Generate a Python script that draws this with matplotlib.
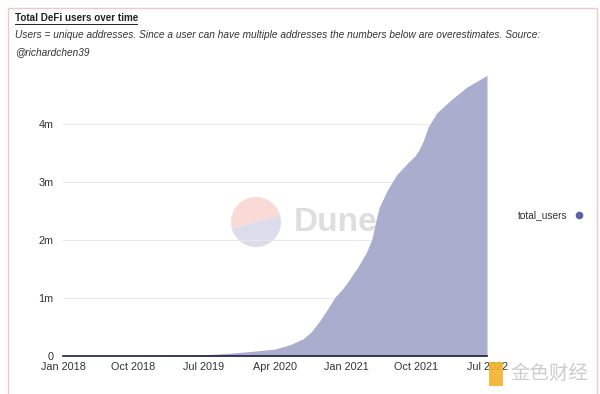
import matplotlib.pyplot as plt
import pandas as pd
from matplotlib.patches import Rectangle, Wedge

# total DeFi users (millions)
dates = ['2018-01-01', '2018-07-01', '2019-01-01', '2019-07-01', '2019-10-15',
         '2020-01-01', '2020-04-01', '2020-06-01', '2020-07-20', '2020-08-20',
         '2020-09-20', '2020-10-20', '2020-11-20', '2020-12-15', '2021-01-05',
         '2021-02-15', '2021-03-20', '2021-04-10', '2021-04-25', '2021-05-10',
         '2021-06-10', '2021-07-15', '2021-08-28', '2021-09-25', '2021-10-10',
         '2021-10-28', '2021-11-15', '2021-12-18', '2022-02-10', '2022-04-15',
         '2022-07-01']
users = [0.0, 0.003, 0.008, 0.02, 0.05,
         0.08, 0.12, 0.2, 0.3, 0.42,
         0.6, 0.8, 1.02, 1.14, 1.26,
         1.53, 1.78, 2.0, 2.3, 2.57,
         2.86, 3.12, 3.33, 3.45, 3.55,
         3.72, 3.95, 4.19, 4.41,
         4.64, 4.84]
xtick_labels = ['Jan 2018', 'Oct 2018', 'Jul 2019', 'Apr 2020', 'Jan 2021', 'Oct 2021', 'Jul 2022']
xtick_dates = ['2018-01-01', '2018-10-01', '2019-07-01', '2020-04-01', '2021-01-01', '2021-10-01', '2022-07-01']
ytick_vals = [0, 1, 2, 3, 4]
ytick_labels = ['0', '1m', '2m', '3m', '4m']

plt.rcParams['font.family'] = ['Liberation Sans', 'Noto Sans CJK SC', 'DejaVu Sans']

fig = plt.figure(figsize=(6, 3.94), dpi=100)

# Dune watermark, behind the chart
ax_w = fig.add_axes([0, 0, 1, 1], zorder=-1)
ax_w.set_xlim(0, 600)
ax_w.set_ylim(394, 0)
ax_w.axis('off')
ax_w.add_patch(Wedge((256, 222), 25, 165, 345, color='#f9dad6', lw=0))
ax_w.add_patch(Wedge((256, 222), 25, 345, 165, color='#dcdcec', lw=0))
ax_w.text(294, 222, 'Dune', fontsize=24, fontweight='bold', color='#dedede', va='center', ha='left')

ax = fig.add_axes([0.105, 0.0964, 0.7067, 0.7287])
ax.patch.set_alpha(0)

x = pd.to_datetime(dates)
ax.fill_between(x, 0, users, color='#abadcf', lw=0, zorder=2)

ax.set_xlim(pd.Timestamp('2018-01-01'), pd.Timestamp('2022-07-01'))
ax.set_ylim(0, 4.95)
ax.set_xticks(pd.to_datetime(xtick_dates))
ax.set_xticklabels(xtick_labels)
ax.set_yticks(ytick_vals)
ax.set_yticklabels(ytick_labels)
ax.tick_params(length=0, labelsize=7.8, colors='#333333', pad=7)
ax.tick_params(axis='x', pad=4)
ax.grid(True, axis='y', color='#e8e8e8', lw=0.7, zorder=1)
for s in ['top', 'right', 'left']:
    ax.spines[s].set_visible(False)
ax.spines['bottom'].set_color('#1e1e46')
ax.spines['bottom'].set_linewidth(1.2)
ax.spines['bottom'].set_zorder(4)

# frame
fig.patches.append(Rectangle((8 / 600, -0.01), 589 / 600, 1 - 8 / 394 + 0.01, transform=fig.transFigure,
                             fill=False, edgecolor='#f6c6c6', lw=1))

fig.text(15 / 600, 1 - 18 / 394, 'Total DeFi users over time', fontsize=7.1, fontweight='bold',
         color='#222222', va='center')
fig.add_artist(plt.Line2D([15 / 600, 137 / 600], [1 - 24 / 394] * 2, color='#222222', lw=0.7))
fig.text(15 / 600, 1 - 35 / 394, 'Users = unique addresses. Since a user can have multiple addresses '
         'the numbers below are overestimates. Source:', fontsize=7.3, style='italic',
         color='#333333', va='center')
fig.text(15 / 600, 1 - 52 / 394, '@richardchen39', fontsize=7.3, style='italic', color='#333333', va='center')

# legend
fig.text(568 / 600, 1 - 215 / 394, 'total_users', fontsize=7.3, color='#333333', ha='right', va='center')
fig.add_artist(plt.Line2D([579 / 600], [1 - 215 / 394], marker='o', markersize=4.5, color='#5b5fa8', lw=0))

# site watermark
fig.patches.append(Rectangle((489 / 600, 1 - 386 / 394), 14 / 600, 24 / 394, transform=fig.transFigure,
                             color='#f5b22a', lw=0, alpha=0.9))
fig.text(510 / 600, 1 - 374 / 394, '金色财经', fontsize=14, color='#cccccc', va='center', ha='left')

fig.savefig('out.png', dpi=100)
